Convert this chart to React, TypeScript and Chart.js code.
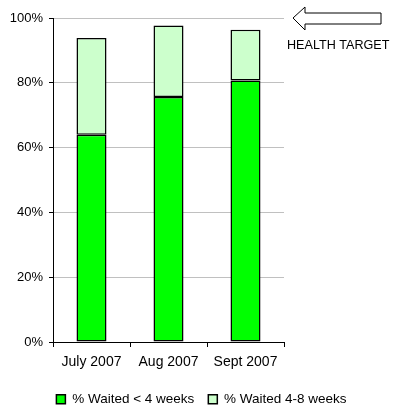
import React, { useEffect, useRef } from "react";
import { Chart, registerables } from "chart.js";

Chart.register(...registerables);

const categories = ["July 2007", "Aug 2007", "Sept 2007"];
const waitedUnder4 = [64.0, 75.6, 80.7];
const waited4to8 = [29.8, 22.1, 15.7];
const seriesNames = ["% Waited < 4 weeks", "% Waited 4-8 weeks"];
const annotationText = "HEALTH TARGET";

const FONT = "Arial, 'Liberation Sans', sans-serif";

const targetPlugin = {
  id: "healthTarget",
  afterDraw(chart: any) {
    const ctx = chart.ctx;
    const y = chart.scales.y.getPixelForValue(100);
    const x0 = chart.chartArea.right + 9;
    ctx.save();
    ctx.beginPath();
    ctx.moveTo(x0, y);
    ctx.lineTo(x0 + 12, y - 11);
    ctx.lineTo(x0 + 12, y - 5);
    ctx.lineTo(x0 + 88, y - 5);
    ctx.lineTo(x0 + 88, y + 6);
    ctx.lineTo(x0 + 12, y + 6);
    ctx.lineTo(x0 + 12, y + 12);
    ctx.closePath();
    ctx.fillStyle = "#ffffff";
    ctx.fill();
    ctx.strokeStyle = "#000000";
    ctx.lineWidth = 1;
    ctx.stroke();
    ctx.fillStyle = "#000000";
    ctx.font = "12.6px " + FONT;
    ctx.textBaseline = "middle";
    ctx.textAlign = "left";
    ctx.fillText(annotationText, x0 - 6, y + 28);
    ctx.restore();
  },
};

export default function App() {
  const ref = useRef<HTMLCanvasElement | null>(null);
  useEffect(() => {
    const chart = new Chart(ref.current as HTMLCanvasElement, {
      type: "bar",
      data: {
        labels: categories,
        datasets: [
          {
            label: seriesNames[0],
            data: waitedUnder4,
            backgroundColor: "#00ff00",
            borderColor: "#000000",
            borderWidth: 1.5,
            borderSkipped: false,
            categoryPercentage: 1,
            barPercentage: 0.39,
          },
          {
            label: seriesNames[1],
            data: waited4to8,
            backgroundColor: "#ccffcc",
            borderColor: "#000000",
            borderWidth: 1.5,
            borderSkipped: false,
            categoryPercentage: 1,
            barPercentage: 0.39,
          },
        ],
      },
      plugins: [targetPlugin],
      options: {
        animation: false,
        responsive: false,
        layout: { padding: { left: 0, right: 0, top: 18, bottom: -6 } },
        plugins: {
          legend: {
            position: "bottom",
            labels: {
              font: { size: 13.5, family: FONT },
              color: "#000000",
              boxWidth: 9,
              boxHeight: 9,
              padding: 14,
            },
          },
          tooltip: { enabled: false },
        },
        scales: {
          x: {
            stacked: true,
            grid: {
              display: true,
              drawOnChartArea: false,
              drawTicks: true,
              tickLength: 5,
              tickColor: "#000000",
              offset: true,
            },
            border: { color: "#000000", width: 1 },
            ticks: { font: { size: 14, family: FONT }, color: "#000000", padding: 7 },
            afterFit: (s: any) => {
              s.height = 36.5;
            },
          },
          y: {
            stacked: true,
            min: 0,
            max: 100,
            ticks: {
              stepSize: 20,
              font: { size: 13, family: FONT },
              color: "#000000",
              padding: 6,
              callback: (v: any) => v + "%",
            },
            grid: {
              color: "#c0c0c0",
              tickColor: "#000000",
              tickLength: 4,
            },
            border: { color: "#000000", width: 1 },
            afterFit: (s: any) => {
              s.width = 53;
            },
          },
          yRight: {
            type: "linear",
            position: "right",
            min: 0,
            max: 100,
            grid: { display: false, drawOnChartArea: false },
            border: { display: false },
            ticks: { display: false },
            afterFit: (s: any) => {
              s.width = 119;
            },
          },
        },
      },
    });
    return () => chart.destroy();
  }, []);
  return (
    <div style={{ position: "fixed", left: 0, top: 0, width: 403, height: 410, background: "#fff" }}>
      <canvas ref={ref} width={403} height={410} />
    </div>
  );
}
